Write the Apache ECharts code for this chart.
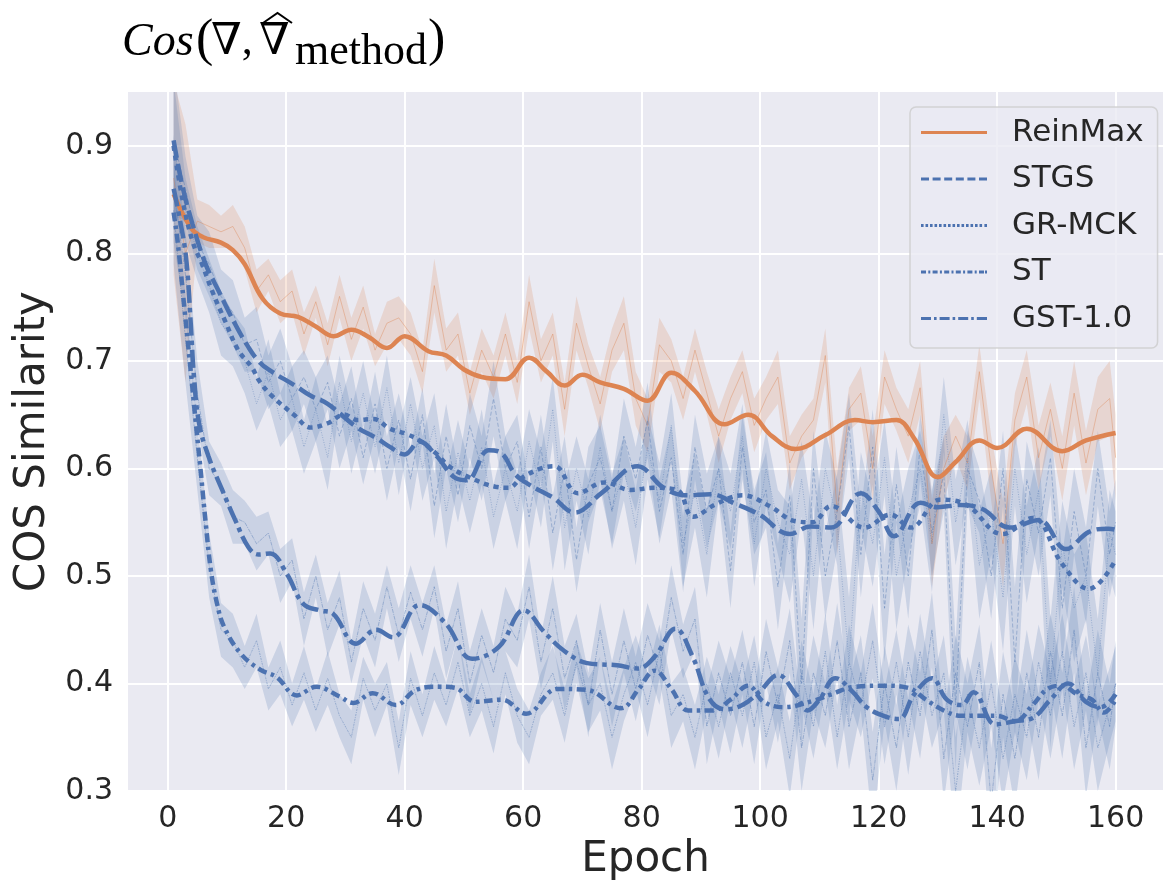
<!DOCTYPE html>
<html><head><meta charset="utf-8">
<script src="https://cdn.jsdelivr.net/npm/echarts@6/dist/echarts.min.js"></script>
<style>html,body{margin:0;padding:0;background:#fff}#c{width:1166px;height:886px}</style>
</head><body><div id="c"></div>
<script>
// sampled epochs for the raw (noisy) curves
const epochs = [1,3,5,7,9,11,13,15,17,19,21,23,25,27,29,31,33,35,37,39,41,43,45,47,49,51,53,55,57,59,61,63,65,67,69,71,73,75,77,79,81,83,85,87,89,91,93,95,97,99,101,103,105,107,109,111,113,115,117,119,121,123,125,127,129,131,133,135,137,139,141,143,145,147,149,151,153,155,157,159,160];

// ReinMax
const reinmaxRaw = [.87,.80,.83,.825,.82,.825,.805,.765,.78,.755,
 .765,.725,.755,.715,.76,.72,.75,.71,.735,.74,
 .725,.69,.77,.71,.725,.67,.71,.685,.725,.68,
 .755,.70,.725,.655,.735,.695,.66,.71,.735,.665,
 .64,.715,.70,.665,.71,.67,.63,.665,.69,.64,
 .665,.685,.605,.63,.645,.705,.56,.655,.67,.60,
 .685,.655,.63,.675,.53,.60,.63,.605,.69,.60,
 .53,.645,.685,.61,.655,.60,.67,.605,.655,.665,.61];
const reinmaxHw = [.09,.12,.02,.02,.015,.02,.02,.02,.015,.02,
 .02,.02,.015,.02,.02,.02,.02,.015,.02,.02,
 .02,.02,.025,.02,.02,.02,.02,.02,.02,.02,
 .025,.02,.02,.025,.025,.02,.025,.02,.025,.025,
 .025,.025,.02,.02,.02,.02,.025,.02,.02,.025,
 .02,.025,.025,.02,.02,.025,.04,.02,.025,.03,
 .025,.02,.025,.025,.04,.03,.02,.025,.025,.03,
 .04,.025,.025,.03,.025,.03,.03,.03,.03,.035,.04];
const reinmaxSmoothX = [1,4,6,9,11,13,16,19,22,25,28,31,34,37,40,44,47,50,53,57,61,64,67,70,73,77,81,85,89,94,98,102,106,111,116,119,123,126,130,133,137,140,145,151,155,160];
const reinmaxSmoothY = [.855,.823,.815,.810,.803,.790,.758,.744,.741,.732,.723,.729,.722,.712,.723,.709,.705,.692,.685,.683,.703,.690,.677,.687,.680,.674,.663,.689,.672,.641,.650,.630,.618,.631,.645,.643,.645,.628,.592,.606,.626,.619,.637,.616,.626,.633];

// STGS
const stgsRaw = [.905,.86,.81,.79,.76,.745,.715,.72,.68,.70,
 .665,.685,.655,.68,.63,.665,.61,.66,.60,.645,
 .59,.65,.565,.63,.575,.64,.60,.665,.60,.625,
 .555,.62,.54,.60,.515,.585,.61,.56,.63,.59,
 .645,.56,.61,.52,.62,.56,.60,.505,.62,.55,
 .58,.49,.575,.40,.60,.50,.56,.64,.52,.62,
 .47,.585,.50,.62,.54,.595,.38,.60,.57,.50,
 .60,.42,.59,.54,.61,.47,.56,.50,.60,.52,.55];
const stgsHw = [.07,.03,.025,.03,.025,.03,.025,.03,.025,.03,
 .03,.025,.03,.025,.03,.03,.025,.03,.03,.025,
 .03,.025,.03,.03,.025,.03,.03,.035,.03,.025,
 .03,.03,.035,.03,.03,.035,.03,.03,.035,.03,
 .035,.03,.03,.035,.03,.035,.03,.035,.03,.03,
 .035,.04,.03,.06,.035,.04,.035,.03,.04,.035,
 .05,.035,.04,.03,.04,.035,.06,.035,.03,.04,
 .035,.07,.035,.04,.035,.05,.04,.045,.035,.04,.04];
const stgsSmoothX = [1,2.5,4.2,6.4,8.6,11.4,13.6,15.3,17,21.5,24,27,32,35.3,37.5,40,42.5,45.3,48.6,50.5,54.2,56.4,58.6,61,65,68.7,73.2,79.3,83.7,87.6,91.6,95.9,99.9,105,108.5,112,117,120,122.6,127.1,130,133.8,137.6,142.1,147.1,151.6,155.5,158.8,160];
const stgsSmoothY = [.905,.862,.827,.79,.765,.734,.713,.70,.692,.677,.668,.66,.638,.628,.62,.613,.625,.612,.591,.589,.617,.614,.595,.585,.573,.559,.577,.602,.582,.575,.576,.567,.557,.539,.546,.545,.577,.56,.537,.568,.564,.566,.562,.545,.552,.525,.541,.544,.543];

// GR-MCK
const grRaw = [.90,.84,.80,.77,.735,.72,.70,.66,.69,.645,
 .665,.62,.655,.61,.68,.625,.67,.62,.675,.605,
 .66,.60,.64,.56,.615,.57,.62,.555,.60,.56,
 .625,.58,.655,.545,.60,.555,.62,.56,.60,.545,
 .62,.57,.64,.53,.58,.52,.60,.56,.63,.53,
 .60,.55,.52,.59,.50,.60,.55,.42,.58,.53,
 .61,.50,.56,.60,.53,.65,.55,.61,.51,.56,
 .48,.60,.52,.58,.40,.53,.47,.50,.41,.54,.52];
const grHw = [.06,.03,.025,.025,.03,.025,.03,.025,.03,.025,
 .03,.025,.03,.03,.025,.03,.03,.025,.03,.03,
 .025,.03,.03,.035,.03,.03,.035,.03,.03,.035,
 .03,.035,.03,.04,.03,.035,.03,.035,.03,.035,
 .03,.035,.03,.04,.035,.04,.03,.035,.03,.04,
 .035,.03,.045,.035,.05,.035,.04,.06,.035,.04,
 .035,.05,.04,.035,.045,.035,.04,.035,.05,.04,
 .05,.035,.045,.04,.06,.04,.05,.04,.05,.04,.04];
const grSmoothX = [1,2.5,4.2,5.8,7.5,9.7,11.9,14.2,15.5,17.5,21.5,24.2,27,29.8,32,34.7,37.5,40.3,42.5,45.3,47.5,50.8,55.3,57.5,59.7,63,65.3,69.2,73.7,78.2,82,86,88.7,92.6,97,101.6,105.9,108.8,112,117.6,122,125.4,130.4,134.9,140.9,146,151,155.5,160];
const grSmoothY = [.90,.85,.811,.79,.765,.737,.71,.694,.681,.668,.649,.638,.642,.65,.645,.646,.637,.632,.626,.614,.602,.592,.583,.582,.591,.60,.602,.577,.587,.58,.582,.58,.555,.567,.575,.565,.551,.55,.565,.545,.557,.545,.571,.566,.539,.554,.511,.488,.515];

// ST
const stRaw = [.84,.72,.61,.51,.45,.44,.415,.44,.395,.415,
 .38,.41,.375,.405,.37,.35,.405,.375,.40,.34,
 .405,.37,.41,.38,.42,.37,.40,.36,.41,.37,
 .35,.39,.41,.37,.42,.38,.40,.35,.39,.42,
 .38,.43,.37,.39,.35,.40,.36,.41,.37,.42,
 .35,.39,.33,.41,.36,.43,.35,.42,.38,.44,
 .36,.42,.35,.43,.37,.41,.30,.39,.34,.40,
 .33,.39,.35,.42,.37,.43,.36,.41,.34,.38,.40];
const stHw = [.05,.04,.03,.03,.025,.025,.02,.025,.02,.025,
 .02,.025,.02,.025,.02,.025,.02,.025,.02,.025,
 .025,.02,.025,.02,.025,.02,.025,.025,.02,.025,
 .025,.02,.025,.025,.02,.025,.025,.03,.025,.025,
 .03,.025,.03,.025,.03,.025,.03,.025,.03,.025,
 .03,.025,.035,.03,.03,.035,.03,.035,.03,.035,
 .035,.03,.035,.035,.03,.035,.05,.035,.035,.04,
 .04,.035,.04,.035,.04,.035,.04,.035,.04,.035,.035];
const stSmoothX = [1,1.7,2.8,3.9,4.7,5.6,6.4,7.3,8.3,9.5,12.3,15.6,18.4,21.8,25.1,29,31.3,34.6,38.5,41.9,45.8,48.5,52,56.4,60.5,65.8,70.8,76.5,79.5,82.2,85,87.9,92,95,98,100.6,104,109,112,116,121,125,128,131,134,137,140,143,146,148.5,151,153.5,156,158,160];
const stSmoothY = [.838,.81,.75,.69,.645,.596,.55,.505,.475,.453,.428,.413,.406,.389,.397,.388,.382,.391,.38,.394,.397,.396,.383,.385,.372,.395,.394,.377,.395,.412,.395,.375,.375,.385,.398,.383,.378,.384,.39,.397,.398,.396,.385,.375,.37,.37,.37,.365,.38,.395,.398,.39,.385,.373,.385];

// GST-1.0
const gstRaw = [.86,.78,.67,.60,.585,.555,.55,.53,.54,.50,
 .515,.46,.50,.45,.48,.42,.47,.44,.49,.445,
 .485,.45,.49,.43,.47,.40,.445,.41,.46,.44,
 .49,.42,.47,.405,.44,.38,.45,.39,.44,.395,
 .445,.41,.48,.43,.46,.36,.41,.37,.42,.36,
 .43,.38,.44,.34,.41,.37,.44,.36,.41,.31,
 .40,.34,.42,.37,.45,.33,.41,.36,.42,.29,
 .39,.33,.41,.35,.43,.37,.45,.34,.41,.36,.40];
const gstHw = [.05,.04,.03,.025,.02,.025,.02,.025,.02,.025,
 .02,.025,.02,.025,.025,.02,.025,.025,.02,.025,
 .025,.025,.02,.025,.025,.03,.025,.025,.03,.025,
 .03,.025,.03,.03,.025,.03,.025,.03,.03,.03,
 .03,.03,.03,.025,.03,.035,.03,.035,.03,.035,
 .03,.035,.03,.04,.035,.03,.035,.04,.035,.045,
 .035,.04,.035,.04,.035,.04,.035,.04,.035,.05,
 .04,.045,.04,.04,.035,.04,.04,.045,.04,.04,.04];
const gstSmoothX = [1,1.9,3.1,3.9,4.4,5.3,6.9,9.2,11.4,13.6,15.3,17.3,20.1,22.9,25.7,27.9,31.8,35.2,38,42.5,46.9,51.4,55.9,60.1,63.7,67,70.8,75.8,79.3,82.2,85.7,88.6,91.4,94,97,100,103,106,108,110,112.7,115.5,118,121.3,123.4,126,129,131.5,134,136,139.7,143,146,149,152,155,157.5,160];
const gstSmoothY = [.86,.836,.796,.734,.688,.642,.611,.58,.552,.527,.52,.521,.502,.474,.468,.465,.437,.45,.443,.473,.456,.423,.434,.468,.447,.43,.419,.417,.414,.425,.451,.425,.386,.376,.38,.393,.408,.39,.375,.385,.405,.393,.378,.369,.367,.39,.405,.385,.38,.392,.362,.365,.368,.385,.40,.383,.378,.39];

const BLUE = '#4C72B0', ORANGE = '#DD8452';

const defs = [
  {name:'ReinMax', color:ORANGE, raw:reinmaxRaw, hw:reinmaxHw, sx:reinmaxSmoothX, sy:reinmaxSmoothY, dash:'solid', thin:'solid',
   icon:'path://M0,0h66v3h-66z'},
  {name:'STGS', color:BLUE, raw:stgsRaw, hw:stgsHw, sx:stgsSmoothX, sy:stgsSmoothY, dash:[18,6], thin:[4,2],
   icon:'path://M0,0h8v3h-8z M11.6,0h8v3h-8z M23.2,0h8v3h-8z M34.8,0h8v3h-8z M46.4,0h8v3h-8z M58,0h8v3h-8z'},
  {name:'GR-MCK', color:BLUE, raw:grRaw, hw:grHw, sx:grSmoothX, sy:grSmoothY, dash:[5,5], thin:[1,1.5],
   icon:'path://M0,0h2.6v3h-2.6z M4.5,0h2.6v3h-2.6z M9,0h2.6v3h-2.6z M13.5,0h2.6v3h-2.6z M18,0h2.6v3h-2.6z M22.5,0h2.6v3h-2.6z M27,0h2.6v3h-2.6z M31.5,0h2.6v3h-2.6z M36,0h2.6v3h-2.6z M40.5,0h2.6v3h-2.6z M45,0h2.6v3h-2.6z M49.5,0h2.6v3h-2.6z M54,0h2.6v3h-2.6z M58.5,0h2.6v3h-2.6z M63.4,0h2.6v3h-2.6z'},
  {name:'ST', color:BLUE, raw:stRaw, hw:stHw, sx:stSmoothX, sy:stSmoothY, dash:[9,4.5,3.5,4.5], thin:[2,1,1,1],
   icon:'path://M0,0h5v3h-5z M7.3,0h2v3h-2z M11.6,0h5v3h-5z M18.9,0h2v3h-2z M23.2,0h5v3h-5z M30.5,0h2v3h-2z M34.8,0h5v3h-5z M42.1,0h2v3h-2z M46.4,0h5v3h-5z M53.7,0h2v3h-2z M58,0h5v3h-5z M64,0h2v3h-2z'},
  {name:'GST-1.0', color:BLUE, raw:gstRaw, hw:gstHw, sx:gstSmoothX, sy:gstSmoothY, dash:[18,5,4.5,5], thin:[4,1,1,1],
   icon:'path://M0,0h10v3h-10z M13,0h2.6v3h-2.6z M18.6,0h10v3h-10z M31.6,0h2.6v3h-2.6z M37.2,0h10v3h-10z M50.2,0h2.6v3h-2.6z M55.8,0h10.2v3h-10.2z'}
];

const series = [];
defs.forEach((d, i) => {
  const bandData = epochs.map((e, j) => [e, d.raw[j] - d.hw[j], d.raw[j] + d.hw[j]]);
  series.push({type:'custom', name:d.name+' ci', silent:true, clip:true, z:1,
    data: bandData, encode:{x:0, y:[1,2]},
    renderItem: (params, api) => {
      if (params.dataIndex !== 0) return null;
      const pts = [];
      for (let j = 0; j < bandData.length; j++) pts.push(api.coord([bandData[j][0], bandData[j][1]]));
      for (let j = bandData.length - 1; j >= 0; j--) pts.push(api.coord([bandData[j][0], bandData[j][2]]));
      return {type:'polygon', shape:{points:pts}, style:{fill:d.color, opacity:0.2}};
    }});
  series.push({type:'line', name:d.name+' raw', symbol:'none', silent:true, z:2,
    data: epochs.map((e, j) => [e, d.raw[j]]),
    lineStyle:{color:d.color, width:1, opacity:0.4, type:d.thin}});
});
defs.forEach(d => {
  series.push({type:'line', name:d.name, symbol:'none', smooth:0.4, z:3,
    data: d.sx.map((x, j) => [x, d.sy[j]]),
    itemStyle:{color:d.color},
    lineStyle:{color:d.color, width:4.5, type:d.dash, cap:'butt'}});
});

const chart = echarts.init(document.getElementById('c'), null, {renderer:'canvas'});
const TXT = '#262626';
const serif = '"Liberation Serif","DejaVu Serif",serif';
chart.setOption({
  animation:false,
  backgroundColor:'#ffffff',
  grid:{left:128, right:-9, top:92, bottom:93, show:true, backgroundColor:'#EAEAF2', borderWidth:0},
  xAxis:{type:'value', min:-6.7, max:168, splitNumber:8, minInterval:20, maxInterval:20,
    name:'Epoch', nameLocation:'middle', nameGap:47,
    nameTextStyle:{fontSize:42, color:TXT, fontFamily:'DejaVu Sans'},
    axisLine:{show:false}, axisTick:{show:false},
    axisLabel:{fontSize:30, color:TXT, fontFamily:'DejaVu Sans', margin:13,
      formatter: v => (Math.abs(v/20 - Math.round(v/20)) < 1e-6 && v >= 0 && v <= 160) ? String(Math.round(v)) : ''},
    splitLine:{show:true, showMinLine:false, showMaxLine:false, lineStyle:{color:'#ffffff', width:2}}},
  yAxis:{type:'value', min:0.3, max:0.95, interval:0.1,
    name:'COS Similarity', nameLocation:'middle', nameGap:72,
    nameTextStyle:{fontSize:42, color:TXT, fontFamily:'DejaVu Sans'},
    axisLine:{show:false}, axisTick:{show:false},
    axisLabel:{fontSize:30, color:TXT, fontFamily:'DejaVu Sans', margin:15,
      formatter: v => (Math.abs(v*10 - Math.round(v*10)) < 1e-6) ? v.toFixed(1) : ''},
    splitLine:{show:true, showMaxLine:false, lineStyle:{color:'#ffffff', width:2}}},
  legend:{show:true, orient:'vertical', left:910, top:107, selectedMode:false,
    itemWidth:66, itemHeight:3, itemGap:15.5, padding:[10,14,14,11],
    backgroundColor:'rgba(234,234,242,0.8)', borderColor:'rgba(204,204,204,0.8)', borderWidth:1.5, borderRadius:6,
    textStyle:{fontSize:31, color:TXT, fontFamily:'DejaVu Sans', padding:[0,0,0,20]},
    data: defs.map(d => ({name:d.name, icon:d.icon}))},
  graphic:[
    {type:'text', style:{x:122, y:20, text:'Cos', font:'italic 46px '+serif, fill:'#000'}},
    {type:'text', style:{x:196, y:15, text:'(', font:'52px '+serif, fill:'#000'}},
    {type:'text', style:{x:211, y:20, text:'\u2207,', font:'44px '+serif, fill:'#000'}},
    {type:'text', style:{x:259, y:20, text:'\u2207', font:'44px '+serif, fill:'#000'}},
    {type:'text', style:{x:295, y:30, text:'method', font:'44px '+serif, fill:'#000'}},
    {type:'text', style:{x:428, y:15, text:')', font:'52px '+serif, fill:'#000'}},
    {type:'polyline', shape:{points:[[263,23],[277.5,13],[292,23]]}, style:{stroke:'#000', lineWidth:2, fill:null}}
  ],
  series: series
});
</script></body></html>
